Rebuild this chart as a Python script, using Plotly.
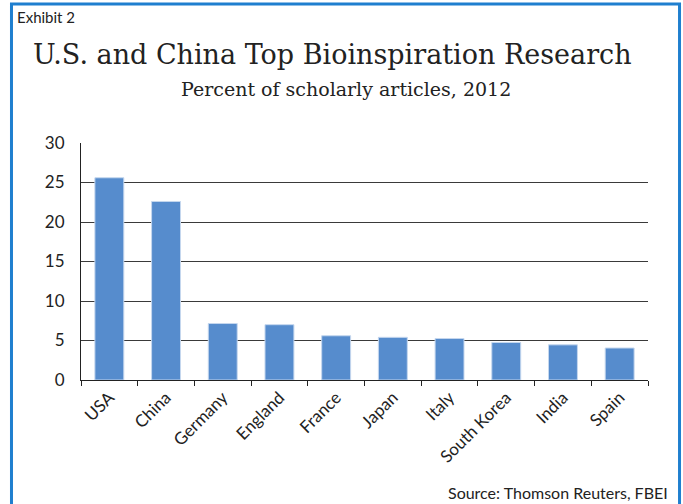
import plotly.graph_objects as go

countries = ["USA", "China", "Germany", "England", "France", "Japan", "Italy",
             "South Korea", "India", "Spain"]
percent = [25.6, 22.6, 7.15, 7.0, 5.6, 5.4, 5.25, 4.75, 4.45, 4.05]
y_ticks = [0, 5, 10, 15, 20, 25, 30]

fig = go.Figure()
fig.add_trace(go.Bar(
    x=countries, y=percent,
    marker=dict(color="#568ccd", line=dict(color="#c5d7ee", width=1)),
))

fig.update_layout(
    width=683, height=504,
    margin=dict(l=81, r=35, t=143, b=124),
    paper_bgcolor="white", plot_bgcolor="white",
    showlegend=False,
    bargap=0.49,
    font=dict(family="Lato, Open Sans, sans-serif", color="#222", size=16),
    xaxis=dict(
        type="category", showgrid=False, showline=True, linecolor="#222", linewidth=1,
        ticks="outside", tickson="boundaries", ticklen=5, tickcolor="#222",
        tickangle=-45, tickfont=dict(size=17, color="#222"),
    ),
    yaxis=dict(
        range=[0, 30], tickvals=y_ticks, showgrid=True, gridcolor="#3a3a3a", gridwidth=1,
        showline=True, linecolor="#222", linewidth=1, zeroline=False,
        ticks="", ticklabelstandoff=12, tickfont=dict(size=17, color="#222"),
    ),
    shapes=[
        dict(type="rect", xref="paper", yref="paper", layer="above",
             x0=-0.1226, x1=1.0556, y0=-0.56, y1=1.5865,
             line=dict(color="#1f7fcf", width=3)),
    ],
    annotations=[
        dict(text="Exhibit 2", xref="paper", yref="paper", x=-0.116, y=1.532,
             xanchor="left", yanchor="middle", showarrow=False,
             font=dict(family="Lato, Open Sans, sans-serif", size=15, color="#222")),
        dict(text="U.S. and China Top Bioinspiration Research", xref="paper", yref="paper",
             x=0.444, y=1.372, xanchor="center", yanchor="middle", showarrow=False,
             font=dict(family="DejaVu Serif, serif", size=27, color="#222")),
        dict(text="Percent of scholarly articles, 2012", xref="paper", yref="paper",
             x=0.4665, y=1.228, xanchor="center", yanchor="middle", showarrow=False,
             font=dict(family="DejaVu Serif, serif", size=19, color="#222")),
        dict(text="Source: Thomson Reuters, FBEI", xref="paper", yref="paper",
             x=1.0388, y=-0.4726, xanchor="right", yanchor="middle", showarrow=False,
             font=dict(family="Lato, Open Sans, sans-serif", size=16, color="#222")),
    ],
)

fig.write_html("out.html", config={"displayModeBar": False},
               post_script="document.body.style.margin='0';")
